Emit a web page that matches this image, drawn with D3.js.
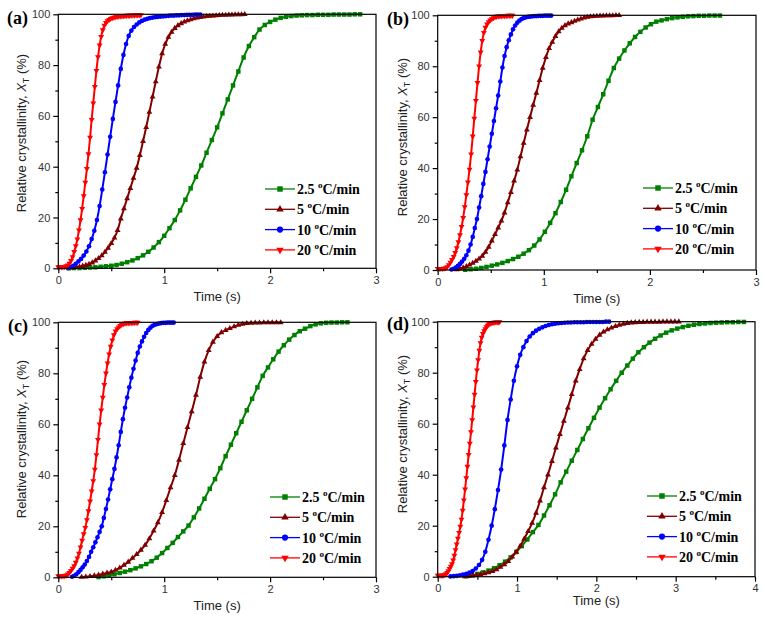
<!DOCTYPE html>
<html><head><meta charset="utf-8">
<script src="https://cdn.jsdelivr.net/npm/d3@7"></script>
<style>body{margin:0;background:#fff}</style>
</head><body>
<svg id="chart" width="765" height="621"></svg>
<script>
// ---------------- DATA ----------------
const rateLabels = ["2.5", "5", "10", "20"];          // heating rates (°C/min), legend order
const panelLabels = ["(a)", "(b)", "(c)", "(d)"];
const xTickValues = [[0, 1, 2, 3], [0, 1, 2, 3], [0, 1, 2, 3], [0, 1, 2, 3, 4]];
const yTickValues = [0, 20, 40, 60, 80, 100];
const xAxisMax = [3, 3, 3, 4];

// sampling grid of every series: first time (s) and time step (s); order 2.5, 5, 10, 20 °C/min
const startA = [0.10, 0.14, 0.09, 0]; const stepA = [0.05, 0.03, 0.025, 0.015];
const startB = [0.26, 0.18, 0.13, 0]; const stepB = [0.05, 0.03, 0.02, 0.015];
const startC = [0.38, 0.22, 0.13, 0]; const stepC = [0.05, 0.04, 0.02, 0.015];
const startD = [0.36, 0.34, 0.16, 0]; const stepD = [0.07, 0.05, 0.04, 0.015];

// relative crystallinity X_T (%)
const a25 = [0.0,0.1,0.1,0.2,0.3,0.4,0.6,0.8,1.0,1.3,1.8,2.4,3.1,4.0,5.1,6.5,8.2,10.3,12.8,15.8,19.0,22.8,27.0,31.5,36.0,40.5,45.5,50.5,55.5,61.0,66.5,72.0,77.5,83.0,87.5,91.0,94.0,95.8,97.0,97.9,98.6,99.0,99.3,99.5,99.6,99.7,99.7,99.8,99.8,99.8,99.9,99.9,99.9,99.9,100,100];
const a5 = [0.2,0.4,0.6,0.9,1.2,1.6,2.2,3.0,3.9,5.0,6.4,8.0,9.8,12.0,15.0,19.5,23.5,27.5,31.5,35.5,39.5,44.5,50.0,55.5,61.5,67.5,73.5,79.3,84.5,88.3,91.0,93.0,94.5,95.6,96.4,97.0,97.5,97.9,98.3,98.6,98.8,99.0,99.2,99.3,99.4,99.5,99.6,99.7,99.7,99.8,99.8,99.9,99.9,99.9,100];
const a10 = [0.1,0.4,1.0,1.8,2.7,3.7,5.0,6.6,8.7,11.5,14.8,19.0,24.5,31.0,37.8,44.8,51.8,58.8,65.5,72.0,78.5,84.0,88.3,91.5,93.6,95.0,96.0,96.8,97.4,97.9,98.2,98.5,98.7,98.9,99.0,99.1,99.2,99.3,99.4,99.5,99.5,99.6,99.6,99.7,99.7,99.8,99.8,99.8,99.9,99.9,99.9];
const a20 = [0.5,0.5,0.5,0.5,0.6,0.9,1.2,1.9,3.0,4.5,6.5,8.8,11.5,15.0,19.0,23.5,28.5,33.8,39.2,45.0,51.5,58.5,65.0,71.5,77.8,83.2,87.8,91.2,93.8,95.6,96.7,97.4,97.9,98.3,98.6,98.8,99.0,99.1,99.2,99.3,99.3,99.4,99.4,99.5,99.5,99.5,99.6,99.6,99.6,99.7,99.7,99.7,99.7];

const b25 = [0.1,0.3,0.5,0.8,1.2,1.7,2.2,2.8,3.5,4.3,5.2,6.4,7.8,9.6,12.0,15.0,18.5,22.3,26.7,31.5,36.8,42.0,47.0,52.5,59.0,64.0,69.0,74.3,79.3,83.0,86.2,89.0,91.5,93.5,95.2,96.5,97.5,98.0,98.5,98.9,99.2,99.4,99.6,99.7,99.8,99.8,99.9,99.9,99.9];
const b5 = [0.2,0.5,0.9,1.4,2.0,2.7,3.5,4.4,5.5,7.0,9.0,11.5,14.0,16.6,19.3,22.5,26.5,30.5,35.0,39.3,44.5,49.8,55.0,60.0,64.8,69.5,74.5,79.3,83.5,87.0,89.5,91.8,93.6,95.0,96.0,96.7,97.2,97.7,98.2,98.6,99.0,99.3,99.5,99.6,99.7,99.8,99.8,99.9,99.9,99.9,100,100];
const b10 = [0.2,0.5,1.0,1.6,2.4,3.3,4.4,5.8,7.6,10.0,13.0,16.5,20.0,24.5,29.0,33.8,38.5,43.5,48.5,53.5,58.5,63.5,68.5,74.0,79.5,84.0,87.5,90.2,92.5,94.5,96.0,97.1,97.9,98.5,98.9,99.2,99.4,99.5,99.6,99.7,99.7,99.8,99.8,99.8,99.9,99.9,99.9,99.9];
const b20 = [0.5,0.5,0.5,0.5,0.6,0.8,1.2,2.0,3.0,4.0,5.2,6.8,8.7,11.0,13.8,17.0,20.5,24.8,29.5,34.5,39.5,45.5,52.5,59.5,66.5,73.5,80.0,85.5,90.0,93.2,95.2,96.5,97.4,98.1,98.6,99.0,99.3,99.5,99.6,99.7,99.7,99.8,99.8,99.8,99.9,99.9,99.9,99.9];

const c25 = [0.1,0.4,0.8,1.2,1.7,2.2,2.8,3.5,4.3,5.2,6.3,7.7,9.5,11.5,13.5,15.8,18.0,20.3,23.5,27.0,30.8,34.7,38.5,42.8,47.5,52.0,56.5,61.0,65.5,70.0,74.5,79.0,82.3,85.5,88.5,91.0,93.2,95.0,96.5,97.5,98.5,99.2,99.6,99.8,99.9,99.9,100,100];
const c5 = [0.1,0.2,0.4,0.6,0.9,1.3,1.7,2.1,2.8,3.7,4.8,6.0,7.5,9.0,10.7,12.6,15.2,18.2,21.5,25.5,30.2,35.2,40.0,46.0,52.5,58.8,65.0,71.5,78.5,84.5,89.0,92.3,94.5,96.0,96.9,97.6,98.3,98.9,99.3,99.6,99.7,99.8,99.8,99.9,99.9,99.9,99.9,99.9];
const c10 = [0.2,0.6,1.2,2.0,2.9,3.9,5.0,6.4,8.0,10.0,11.8,13.7,15.7,17.8,20.0,23.3,26.8,30.5,34.5,38.5,42.5,47.0,51.8,57.0,62.0,66.5,70.5,74.5,78.3,81.8,85.0,88.0,90.5,92.5,94.3,95.8,97.0,97.9,98.6,99.0,99.3,99.5,99.7,99.8,99.8,99.9,99.9,99.9,99.9];
const c20 = [0.5,0.5,0.5,0.5,0.6,0.8,1.2,1.8,2.6,3.5,4.5,5.8,7.5,9.4,11.8,14.5,17.0,19.5,22.5,26.0,29.8,33.8,37.8,42.3,48.0,54.0,60.0,65.5,70.5,75.5,80.0,84.0,87.5,90.5,93.0,95.0,96.5,97.4,98.1,98.7,99.1,99.4,99.6,99.7,99.7,99.8,99.8,99.8,99.9,99.9,99.9];

const d25 = [0.2,0.6,1.1,1.7,2.4,3.3,4.5,5.9,7.6,9.7,12.0,14.6,17.5,20.3,24.0,28.0,32.3,37.0,41.2,45.5,49.7,54.0,58.2,62.3,66.3,70.0,73.5,76.8,80.0,82.8,85.5,88.0,90.0,91.8,93.3,94.6,95.7,96.6,97.3,97.9,98.4,98.8,99.1,99.3,99.5,99.6,99.7,99.8,99.8,99.9,99.9];
const d5 = [0.1,0.2,0.4,0.6,0.9,1.2,1.6,2.1,2.8,3.8,4.8,6.0,7.8,9.7,12.0,14.8,17.8,21.0,25.0,29.8,35.0,40.0,45.3,50.5,55.8,61.0,66.2,71.5,76.8,81.3,85.5,88.8,91.2,93.2,94.8,96.0,96.9,97.6,98.2,98.7,99.1,99.4,99.6,99.7,99.8,99.8,99.9,99.9,99.9,99.9,100,100,100,100,100];
const d10 = [0.1,0.2,0.3,0.5,0.8,1.1,1.6,2.2,3.2,4.6,6.6,9.8,14.5,20.0,26.5,34.0,42.0,51.5,61.5,69.5,76.8,82.5,87.0,90.0,92.4,94.2,95.5,96.5,97.2,97.8,98.3,98.7,99.0,99.2,99.4,99.5,99.6,99.7,99.7,99.8,99.8,99.8,99.8,99.9,99.9,99.9,99.9,99.9,99.9,100,100];
const d20 = [0.5,0.5,0.5,0.5,0.5,0.6,0.8,1.1,1.6,2.3,3.1,4.0,5.0,6.5,8.3,10.5,12.7,15.0,17.3,19.7,22.5,26.0,30.0,34.3,38.7,43.2,47.8,52.3,56.8,61.5,66.5,71.5,76.5,81.0,85.0,88.7,91.7,93.8,95.3,96.4,97.2,97.9,98.5,99.0,99.3,99.5,99.6,99.7,99.7,99.8,99.8,99.8,99.9];

const panelValues = [[a25, a5, a10, a20], [b25, b5, b10, b20], [c25, c5, c10, c20], [d25, d5, d10, d20]];
const panelStarts = [startA, startB, startC, startD];
const panelSteps = [stepA, stepB, stepC, stepD];

// ---------------- STYLE / LAYOUT ----------------
const colors = ["#008000", "#800000", "#0000ff", "#ff0000"];
const layout = [
  {l: 58.3, t: 14.3, r: 376, b: 268.3, labX: 7, labY: 24, ytX: 25.5, ytY: 133, xtDy: 33, legX: 265, legY: 189},
  {l: 437.7, t: 15.3, r: 756, b: 270, labX: 387, labY: 25, ytX: 407, ytY: 137, xtDy: 33, legX: 643, legY: 188},
  {l: 58.3, t: 322.3, r: 376, b: 577.3, labX: 8, labY: 332, ytX: 25.5, ytY: 439, xtDy: 33, legX: 270, legY: 497},
  {l: 437.7, t: 321.7, r: 755, b: 576.7, labX: 387, labY: 330, ytX: 407, ytY: 434, xtDy: 28.5, legX: 647, legY: 496}
];
const legDy = 20.3;

function symbolPath(k, big) {
  const sizes = big ? [30, 24, 30, 24] : [20, 15, 17, 15];
  const types = [d3.symbolSquare, d3.symbolTriangle, d3.symbolCircle, d3.symbolTriangle];
  return d3.symbol().type(types[k]).size(sizes[k])();
}
function symbolRot(k) { return k === 3 ? " rotate(180)" : ""; }

const svg = d3.select("#chart");
const sansFont = "'Liberation Sans', Arial, sans-serif";
const serifFont = "'Liberation Serif', 'Times New Roman', serif";

layout.forEach((L, p) => {
  const x = d3.scaleLinear().domain([0, xAxisMax[p]]).range([L.l, L.r]);
  const y = d3.scaleLinear().domain([0, 100]).range([L.b, L.t]);
  const g = svg.append("g");

  // series (line + markers)
  const line = d3.line().curve(d3.curveMonotoneX).x(d => x(d[0])).y(d => y(d[1]));
  panelValues[p].forEach((vals, k) => {
    const pts = vals.map((v, i) => [panelStarts[p][k] + i * panelSteps[p][k], v]);
    const sg = g.append("g");
    sg.append("path").attr("d", line(pts)).attr("fill", "none")
      .attr("stroke", colors[k]).attr("stroke-width", 2);
    sg.selectAll("path.m").data(pts).join("path").attr("class", "m")
      .attr("d", symbolPath(k, false))
      .attr("transform", d => `translate(${x(d[0])},${y(d[1])})${symbolRot(k)}`)
      .attr("fill", colors[k]);
  });

  // axes
  const xAx = g.append("g").attr("transform", `translate(0,${L.b})`)
    .call(d3.axisBottom(x).tickValues(xTickValues[p]).tickSize(5).tickSizeOuter(0).tickFormat(d3.format("d")));
  const xMinor = g.append("g").attr("transform", `translate(0,${L.b})`)
    .call(d3.axisBottom(x).tickValues(d3.range(0.5, xAxisMax[p], 1)).tickSize(3).tickFormat(""));
  const yAx = g.append("g").attr("transform", `translate(${L.l},0)`)
    .call(d3.axisLeft(y).tickValues(yTickValues).tickSize(5).tickSizeOuter(0));
  const yMinor = g.append("g").attr("transform", `translate(${L.l},0)`)
    .call(d3.axisLeft(y).tickValues([10, 30, 50, 70, 90]).tickSize(3).tickFormat(""));
  [xAx, xMinor, yAx, yMinor].forEach(a => {
    a.select(".domain").remove();
    a.selectAll("line").attr("stroke", "#000").attr("stroke-width", 1.2);
    a.selectAll("text").attr("font-family", sansFont).attr("font-size", 11).attr("fill", "#333");
  });
  g.append("rect").attr("x", L.l).attr("y", L.t).attr("width", L.r - L.l).attr("height", L.b - L.t)
    .attr("fill", "none").attr("stroke", "#000").attr("stroke-width", 1.2);

  // axis titles
  g.append("text").attr("x", (L.l + L.r) / 2).attr("y", L.b + L.xtDy).attr("text-anchor", "middle")
    .attr("font-family", sansFont).attr("font-size", 13).attr("fill", "#222").text("Time (s)");
  const yt = g.append("text").attr("transform", `translate(${L.ytX},${L.ytY}) rotate(-90)`)
    .attr("text-anchor", "middle").attr("font-family", sansFont).attr("font-size", 13).attr("fill", "#222");
  yt.append("tspan").text("Relative crystallinity, ");
  yt.append("tspan").attr("font-style", "italic").text("X");
  yt.append("tspan").attr("font-size", 9).attr("dy", 3).text("T");
  yt.append("tspan").attr("dy", -3).text(" (%)");

  // panel label
  g.append("text").attr("x", L.labX).attr("y", L.labY).attr("font-family", serifFont)
    .attr("font-weight", "bold").attr("font-size", 18).attr("fill", "#000").text(panelLabels[p]);

  // legend
  rateLabels.forEach((lab, k) => {
    const ly = L.legY + k * legDy;
    const lg = g.append("g");
    lg.append("line").attr("x1", L.legX).attr("x2", L.legX + 30).attr("y1", ly).attr("y2", ly)
      .attr("stroke", colors[k]).attr("stroke-width", 1.3);
    lg.append("path").attr("d", symbolPath(k, true))
      .attr("transform", `translate(${L.legX + 15},${ly})${symbolRot(k)}`).attr("fill", colors[k]);
    const t = lg.append("text").attr("x", L.legX + 32).attr("y", ly + 5)
      .attr("font-family", serifFont).attr("font-weight", "bold").attr("font-size", 14).attr("fill", "#000");
    t.append("tspan").text(lab + " ");
    t.append("tspan").attr("font-size", 9).attr("dy", -6).text("o");
    t.append("tspan").attr("dy", 6).text("C/min");
  });
});
</script>
</body></html>
